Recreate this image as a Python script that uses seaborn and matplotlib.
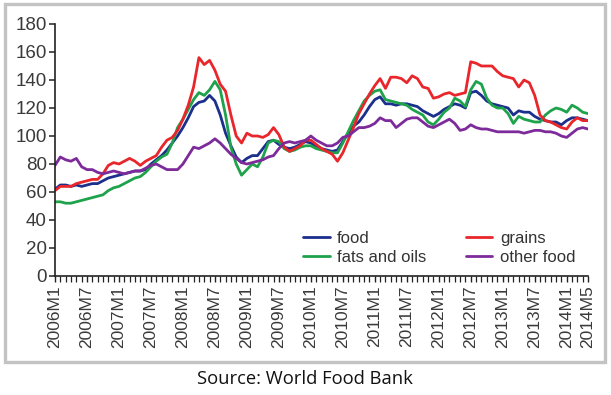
import matplotlib
matplotlib.use("Agg")
import matplotlib.pyplot as plt
import seaborn as sns
import pandas as pd
from matplotlib.patches import Rectangle
from matplotlib.ticker import MultipleLocator

# ---- data (2006M1 .. 2014M5, monthly) ----
food = [62, 65, 65, 64, 65, 64, 65, 66, 66, 68, 70, 71, 72, 73, 74, 75, 75, 76, 80, 83,
        86, 90, 95, 100, 106, 113, 121, 124, 125, 129, 125, 115, 102, 93, 85, 81, 84, 86, 86, 91,
        96, 97, 94, 92, 91, 92, 94, 96, 95, 93, 91, 90, 89, 90, 96, 102, 107, 110, 115, 121,
        126, 128, 123, 123, 122, 123, 123, 122, 121, 118, 116, 114, 116, 119, 121, 123, 122, 120, 131, 132,
        129, 125, 123, 122, 121, 120, 115, 118, 117, 117, 114, 112, 111, 110, 110, 108, 111, 113, 113, 112,
        111]
grains = [61, 64, 64, 64, 66, 67, 68, 69, 69, 73, 79, 81, 80, 82, 84, 82, 79, 82, 84, 86,
          92, 97, 99, 104, 112, 122, 135, 156, 151, 154, 147, 137, 132, 115, 100, 95, 102, 100, 100, 99,
          101, 106, 101, 92, 89, 91, 93, 97, 97, 94, 91, 89, 87, 82, 88, 97, 106, 116, 123, 130,
          136, 141, 134, 142, 142, 141, 138, 143, 141, 135, 134, 127, 128, 130, 131, 129, 130, 131, 153, 152,
          150, 150, 150, 146, 143, 142, 141, 135, 140, 138, 129, 115, 111, 110, 108, 106, 105, 110, 113, 111,
          111]
fats_and_oils = [53, 53, 52, 52, 53, 54, 55, 56, 57, 58, 61, 63, 64, 66, 68, 70, 71, 74, 78, 82,
                 85, 87, 95, 106, 112, 119, 126, 131, 129, 133, 139, 133, 115, 92, 80, 72, 76, 80, 78, 85,
                 95, 97, 96, 91, 89, 90, 92, 93, 93, 91, 90, 89, 88, 88, 95, 103, 111, 118, 125, 129,
                 132, 133, 126, 125, 124, 123, 122, 119, 117, 115, 110, 108, 112, 117, 120, 127, 125, 121, 133, 139,
                 137, 127, 122, 120, 120, 116, 109, 114, 112, 111, 110, 110, 115, 118, 120, 119, 117, 122, 120, 117,
                 116]
other_food = [79, 85, 83, 82, 84, 78, 76, 76, 74, 73, 74, 75, 74, 73, 74, 75, 75, 77, 79, 80,
              78, 76, 76, 76, 80, 86, 92, 91, 93, 95, 98, 95, 91, 87, 84, 81, 80, 81, 82, 83,
              85, 86, 91, 95, 96, 95, 96, 97, 100, 97, 95, 93, 93, 95, 99, 100, 103, 106, 106, 107,
              109, 113, 111, 111, 106, 109, 112, 113, 113, 110, 107, 106, 108, 110, 112, 109, 104, 105, 108, 106,
              105, 105, 104, 103, 103, 103, 103, 103, 102, 103, 104, 104, 103, 103, 102, 100, 99, 102, 105, 106,
              105]

series_names = ["food", "fats and oils", "grains", "other food"]
series_colors = ["#1c2f8c", "#1ea24b", "#e8262b", "#7d2a9a"]
tick_positions = [0, 6, 12, 18, 24, 30, 36, 42, 48, 54, 60, 66, 72, 78, 84, 90, 96, 100]
tick_labels = ["2006M1", "2006M7", "2007M1", "2007M7", "2008M1", "2008M7", "2009M1", "2009M7",
               "2010M1", "2010M7", "2011M1", "2011M7", "2012M1", "2012M7", "2013M1", "2013M7",
               "2014M1", "2014M5"]

values = {"food": food, "fats and oils": fats_and_oils, "grains": grains, "other food": other_food}
rows = []
for name in series_names:
    for i, v in enumerate(values[name]):
        rows.append({"month": i, "value": v, "series": name})
df = pd.DataFrame(rows)

sns.set_style("white")
plt.rcParams["font.family"] = ["Liberation Sans", "DejaVu Sans"]

fig = plt.figure(figsize=(6.11, 3.95), dpi=100)
ax = fig.add_axes([55 / 611, 1 - 276 / 395, (588 - 55) / 611, (276 - 24) / 395])

sns.lineplot(data=df, x="month", y="value", hue="series", hue_order=series_names,
             palette=series_colors, linewidth=2.0, ax=ax, legend=False)

ax.set_xlim(0, 100)
ax.set_ylim(0, 180)
ax.yaxis.set_major_locator(MultipleLocator(20))
ax.set_xticks(tick_positions)
ax.set_xticklabels(tick_labels, rotation=90)
ax.xaxis.set_minor_locator(MultipleLocator(1))
ax.set_xlabel("")
ax.set_ylabel("")
for s in ["top", "right"]:
    ax.spines[s].set_visible(False)
for s in ["left", "bottom"]:
    ax.spines[s].set_color("#222222")
    ax.spines[s].set_linewidth(1.2)
ax.tick_params(axis="y", which="major", direction="out", length=4, width=1.1, color="#222222",
               labelsize=13.5, labelcolor="#3a3a3a", pad=2, left=True)
ax.tick_params(axis="x", which="major", direction="out", length=4, width=1.0, color="#222222",
               labelsize=12.5, labelcolor="#3a3a3a", pad=3, bottom=True)
ax.tick_params(axis="x", which="minor", direction="out", length=4, width=0.9, color="#222222",
               bottom=True)

handles = ax.get_lines()[:4]
ax.legend(handles, series_names, ncol=2, frameon=False, loc="upper left",
          bbox_to_anchor=(303 / 611, 1 - 231 / 395), bbox_transform=fig.transFigure,
          fontsize=12, handlelength=1.6, handletextpad=0.45, columnspacing=2.35,
          labelspacing=0.25, labelcolor="#333333", borderpad=0, borderaxespad=0)

fig.patches.append(Rectangle((5 / 611, 1 - 362 / 395), 600 / 611, 358 / 395,
                             transform=fig.transFigure, fill=False,
                             edgecolor="#c3c3c3", linewidth=2.4))
fig.text(305 / 611, 1 - 379 / 395, "Source: World Food Bank", ha="center", va="center",
         fontsize=13.2, color="#111111", family=["Open Sans", "DejaVu Sans"])

fig.savefig("out.png", dpi=100)
